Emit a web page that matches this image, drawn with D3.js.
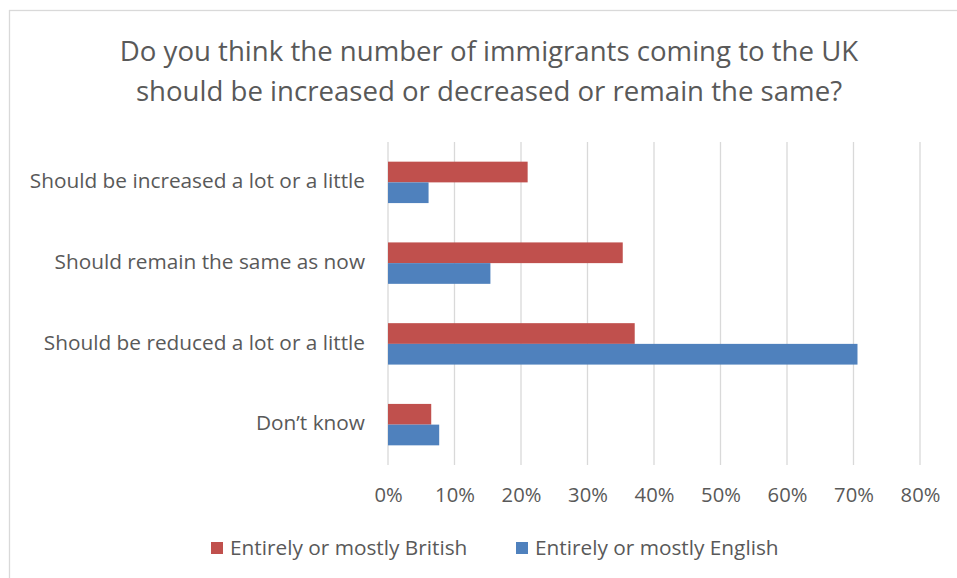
<!DOCTYPE html>
<html>
<head>
<meta charset="utf-8">
<script src="https://cdn.jsdelivr.net/npm/d3@7"></script>
<style>
  html, body { margin: 0; padding: 0; background: #fff; }
  svg { display: block; }
  text { font-family: "Open Sans", "Lato", sans-serif; fill: #595959; }
</style>
</head>
<body>
<svg id="chart" width="957" height="578"></svg>
<script>
const categories = [
  "Should be increased a lot or a little",
  "Should remain the same as now",
  "Should be reduced a lot or a little",
  "Don\u2019t know"
];
const seriesNames = ["Entirely or mostly British", "Entirely or mostly English"];
const britishValues = [0.210, 0.353, 0.371, 0.065];
const englishValues = [0.061, 0.154, 0.706, 0.077];
const xTicks = [0, 0.1, 0.2, 0.3, 0.4, 0.5, 0.6, 0.7, 0.8];
const colors = ["#C0504D", "#4F81BD"];
const titleLines = [
  "Do you think the number of immigrants coming to the UK",
  "should be increased or decreased or remain the same?"
];

const svg = d3.select("#chart");

// outer border
svg.append("rect")
  .attr("x", 9.5).attr("y", 10.5)
  .attr("width", 960).attr("height", 580)
  .attr("fill", "#fff").attr("stroke", "#d9d9d9").attr("stroke-width", 1.3);

// title
svg.append("g").selectAll("text")
  .data(titleLines).join("text")
  .attr("x", 489).attr("y", (d, i) => 61 + i * 39.5)
  .attr("text-anchor", "middle")
  .style("font-size", "27.6px")
  .text(d => d);

const x = d3.scaleLinear().domain([0, 0.8]).range([388, 920]);
const y = d3.scaleBand().domain(categories).range([142, 465]).paddingInner(0.487).paddingOuter(0.2435);
const sub = d3.scaleBand().domain([0, 1]).range([0, y.bandwidth()]);

// gridlines
svg.append("g").selectAll("line")
  .data(xTicks).join("line")
  .attr("x1", d => x(d)).attr("x2", d => x(d))
  .attr("y1", 142).attr("y2", 465)
  .attr("stroke", "#d9d9d9").attr("stroke-width", 1.3);

// bars
const rows = categories.map((c, i) => ({ c, vals: [britishValues[i], englishValues[i]] }));
const groups = svg.append("g").selectAll("g")
  .data(rows).join("g")
  .attr("transform", d => `translate(0,${y(d.c)})`);
groups.selectAll("rect")
  .data(d => d.vals.map((v, k) => ({ v, k })))
  .join("rect")
  .attr("x", x(0))
  .attr("y", d => sub(d.k))
  .attr("width", d => x(d.v) - x(0))
  .attr("height", sub.bandwidth())
  .attr("fill", d => colors[d.k]);

// x axis labels
const xAxis = d3.axisBottom(x).tickValues(xTicks).tickFormat(d3.format(".0%")).tickSize(0).tickPadding(0);
const xg = svg.append("g").attr("transform", "translate(0,488)").call(xAxis);
xg.select(".domain").remove();
xg.selectAll("text").style("font-size", "20.2px").attr("fill", "#595959").style("font-family", "'Open Sans', sans-serif");

// y axis labels
const yAxis = d3.axisLeft(y).tickSize(0).tickPadding(0);
const yg = svg.append("g").attr("transform", "translate(365,0)").call(yAxis);
yg.select(".domain").remove();
yg.selectAll("text").style("font-size", "20.8px").attr("dy", "0.28em").attr("fill", "#595959").style("font-family", "'Open Sans', sans-serif");

// legend
const legendX = [211, 516];
const lg = svg.append("g").selectAll("g")
  .data(seriesNames).join("g")
  .attr("transform", (d, i) => `translate(${legendX[i]},542)`);
lg.append("rect").attr("width", 12).attr("height", 12).attr("fill", (d, i) => colors[i]);
lg.append("text").attr("x", 19).attr("y", 13)
  .style("font-size", "20.8px").text(d => d);
</script>
</body>
</html>
